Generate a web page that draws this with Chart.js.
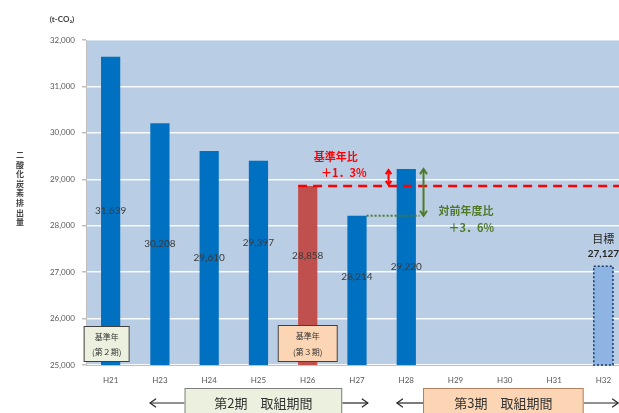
<!DOCTYPE html>
<html>
<head>
<meta charset="utf-8">
<script src="https://cdn.jsdelivr.net/npm/chart.js@4.4.0/dist/chart.umd.min.js"></script>
<style>
html, body { margin: 0; padding: 0; overflow: hidden; background: #fff; }
#wrap { width: 628px; height: 413px; }
</style>
</head>
<body>
<div id="wrap"><canvas id="co2Chart" width="628" height="413"></canvas></div>
<script>
// 年度と排出量 (t-CO2)
const categories = ['H21', 'H23', 'H24', 'H25', 'H26', 'H27', 'H28', 'H29', 'H30', 'H31', 'H32'];
const emissions = [31639, 30208, 29610, 29397, 28858, 28214, 29220, null, null, null, 27127];
const yMin = 25000;
const yMax = 32000;
const yStep = 1000;
const baseIndex = 4;     // 基準年(第3期) H26
const prevIndex = 5;     // 前年度 H27
const latestIndex = 6;   // H28
const targetIndex = 10;  // 目標 H32

const JP = '"Noto Sans CJK JP", sans-serif';
const NUM = 'Lato, "Liberation Sans", sans-serif';

const barColors = categories.map((c, i) => {
    if (i === baseIndex) return '#c0504d';
    if (i === targetIndex) return '#8db4e2';
    return '#0070c0';
});

const fmt = v => v.toLocaleString('en-US');

function arrowHead(ctx, x, y, dx, dy, size) {
    const len = Math.hypot(dx, dy);
    const ux = dx / len, uy = dy / len;
    ctx.beginPath();
    ctx.moveTo(x - ux * size - uy * size * 0.7, y - uy * size + ux * size * 0.7);
    ctx.lineTo(x, y);
    ctx.lineTo(x - ux * size + uy * size * 0.7, y - uy * size - ux * size * 0.7);
    ctx.stroke();
}

function arrow(ctx, x1, y1, x2, y2, size, both) {
    ctx.beginPath();
    ctx.moveTo(x1, y1);
    ctx.lineTo(x2, y2);
    ctx.stroke();
    arrowHead(ctx, x2, y2, x2 - x1, y2 - y1, size);
    if (both) arrowHead(ctx, x1, y1, x1 - x2, y1 - y2, size);
}

function box(ctx, x1, y1, x2, y2, fill, stroke) {
    ctx.fillStyle = fill;
    ctx.fillRect(x1, y1, x2 - x1, y2 - y1);
    ctx.strokeStyle = stroke;
    ctx.lineWidth = 1;
    ctx.strokeRect(x1 + 0.5, y1 + 0.5, x2 - x1 - 1, y2 - y1 - 1);
}

const notesPlugin = {
    id: 'co2Notes',
    beforeDraw(chart) {
        const { ctx, chartArea: a } = chart;
        ctx.save();
        ctx.fillStyle = '#b9cde5';
        ctx.fillRect(a.left, a.top, a.right - a.left, a.bottom - a.top);
        ctx.restore();
    },
    afterDraw(chart, args, opts) {
        const { ctx, chartArea: a } = chart;
        const xs = chart.scales.x, ys = chart.scales.y;
        const meta = chart.getDatasetMeta(0);
        const X = i => xs.getPixelForValue(i);
        const Y = v => ys.getPixelForValue(v);
        const bottomOf = bar => Math.min(bar.base, a.bottom);
        ctx.save();

        // 値ラベル (棒の中央)
        ctx.textAlign = 'center';
        ctx.textBaseline = 'middle';
        ctx.fillStyle = '#3a3a3a';
        ctx.font = '10px ' + NUM;
        meta.data.forEach((bar, i) => {
            const v = emissions[i];
            if (v === null || i === targetIndex) return;
            const shift = opts.labelShift[i] || 0;
            ctx.fillText(fmt(v), bar.x, (bar.y + bottomOf(bar)) / 2 + shift);
        });

        // 目標バー (点線枠 + ラベル)
        const tb = meta.data[targetIndex];
        ctx.setLineDash([2, 2]);
        ctx.strokeStyle = '#1f3864';
        ctx.lineWidth = 1.5;
        ctx.strokeRect(tb.x - tb.width / 2, tb.y, tb.width, bottomOf(tb) - tb.y);
        ctx.setLineDash([]);
        ctx.fillStyle = '#262626';
        ctx.font = '11px ' + JP;
        ctx.fillText('目標', tb.x, tb.y - 27);
        ctx.font = 'bold 10px ' + NUM;
        ctx.fillText(fmt(emissions[targetIndex]), tb.x, tb.y - 12);

        // 基準年ライン
        const bb = meta.data[baseIndex];
        const yBase = Y(emissions[baseIndex]);
        ctx.strokeStyle = '#ff0000';
        ctx.lineWidth = 2.5;
        ctx.setLineDash([9, 6]);
        ctx.beginPath();
        ctx.moveTo(bb.x - bb.width / 2, yBase);
        ctx.lineTo(a.right, yBase);
        ctx.stroke();
        ctx.setLineDash([]);

        // 基準年比 矢印
        const step = X(1) - X(0);
        const yLatest = Y(emissions[latestIndex]);
        ctx.lineWidth = 2;
        arrow(ctx, X(latestIndex) - step * 0.36, yLatest + 1, X(latestIndex) - step * 0.36, yBase - 1, 4, true);

        ctx.fillStyle = '#ff0000';
        ctx.font = 'bold 11px ' + JP;
        ctx.fillText('基準年比', X(4.57), yLatest - 12);
        ctx.fillText('＋1．3%', X(4.73), yLatest + 4);

        // 対前年度比
        const pb = meta.data[prevIndex];
        const yPrev = Y(emissions[prevIndex]);
        const gx = X(latestIndex) + step * 0.35;
        ctx.strokeStyle = '#4f7a28';
        ctx.lineWidth = 2;
        ctx.setLineDash([2, 2]);
        ctx.beginPath();
        ctx.moveTo(pb.x + pb.width / 2, yPrev);
        ctx.lineTo(gx - 4, yPrev);
        ctx.stroke();
        ctx.setLineDash([]);
        arrow(ctx, gx, yLatest, gx, yPrev, 5, true);

        ctx.fillStyle = '#4f7a28';
        ctx.textAlign = 'left';
        ctx.fillText('対前年度比', gx + 15, yPrev - 5);
        ctx.fillText('＋3．6%', gx + 25, yPrev + 12);

        // 基準年ボックス
        ctx.textAlign = 'center';
        box(ctx, X(0) - 27, a.bottom - 39, X(0) + 19, a.bottom - 3, '#ebf1de', '#404040');
        box(ctx, X(baseIndex) - 30, a.bottom - 40, X(baseIndex) + 30, a.bottom - 3, '#fcd5b4', '#404040');
        ctx.fillStyle = '#333';
        ctx.font = '8px ' + JP;
        ctx.fillText('基準年', X(0) - 4, a.bottom - 28);
        ctx.fillText('(第２期)', X(0) - 4, a.bottom - 13);
        ctx.fillText('基準年', X(baseIndex), a.bottom - 29);
        ctx.fillText('(第３期)', X(baseIndex), a.bottom - 13);

        // 取組期間
        const by = a.bottom + 23;
        const cy = by + 15;
        ctx.strokeStyle = '#262626';
        ctx.lineWidth = 1.2;
        arrow(ctx, X(1.5), cy, X(0.8), cy, 6, false);
        arrow(ctx, X(4.7), cy, X(5.22), cy, 6, false);
        arrow(ctx, X(6.34), cy, X(5.81), cy, 6, false);
        arrow(ctx, X(9.6), cy, X(10.3), cy, 6, false);
        box(ctx, X(1.5), by, X(4.7), by + 30, '#ebf1de', '#7f7f7f');
        box(ctx, X(6.34), by, X(9.6), by + 30, '#fcd5b4', '#b08060');
        ctx.fillStyle = '#333';
        ctx.font = '13px ' + JP;
        ctx.fillText('第2期　取組期間', (X(1.5) + X(4.7)) / 2, cy);
        ctx.fillText('第3期　取組期間', (X(6.34) + X(9.6)) / 2, cy);

        // 軸タイトル
        ctx.fillStyle = '#404040';
        ctx.font = 'bold 8px ' + NUM;
        ctx.fillText('(t-CO₂)', 62, 19);
        ctx.font = 'bold 8px ' + JP;
        const vTitle = '二酸化炭素排出量';
        for (let k = 0; k < vTitle.length; k++) {
            ctx.fillText(vTitle[k], 20, 155 + k * 9.6);
        }
        ctx.restore();
    }
};

new Chart(document.getElementById('co2Chart').getContext('2d'), {
    type: 'bar',
    data: {
        labels: categories,
        datasets: [{
            data: emissions,
            backgroundColor: barColors,
            borderWidth: 0,
            categoryPercentage: 1,
            barPercentage: 0.39
        }]
    },
    options: {
        responsive: false,
        animation: false,
        devicePixelRatio: 1,
        layout: { padding: { top: 40, left: 0, right: 0, bottom: 0 } },
        plugins: {
            legend: { display: false },
            tooltip: { enabled: false },
            co2Notes: { labelShift: [0, 0, 0, -20, -20, -14, 0] }
        },
        scales: {
            x: {
                grid: { display: false, drawTicks: false },
                border: { color: '#bfbfbf' },
                ticks: { font: { size: 8, family: NUM }, color: '#595959', padding: 11 },
                afterFit(scale) { scale.height = 48; }
            },
            y: {
                min: yMin,
                max: yMax,
                grid: { color: 'rgba(255,255,255,0.9)', lineWidth: 1.5, tickColor: '#bfbfbf', tickLength: 4 },
                border: { color: '#bfbfbf' },
                ticks: { stepSize: yStep, font: { size: 8, family: NUM }, color: '#595959', padding: 7 },
                afterFit(scale) { scale.width = 86; }
            }
        }
    },
    plugins: [notesPlugin]
});
</script>
</body>
</html>
